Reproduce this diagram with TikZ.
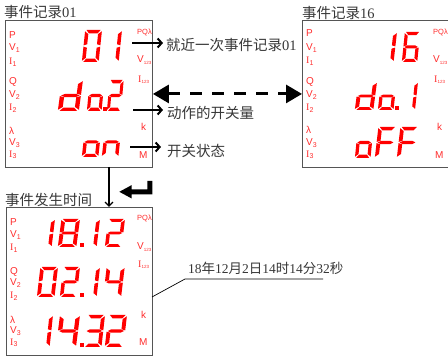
\documentclass[tikz,border=0pt]{standalone}
\usepackage{fontspec}
\setmainfont{Liberation Serif}
\newfontfamily\cjk{Noto Sans CJK SC}
\newfontfamily\lsans{Liberation Sans}
\usetikzlibrary{arrows.meta}
\definecolor{lcd}{RGB}{255,0,0}
\definecolor{lbl}{RGB}{255,45,45}
\definecolor{txt}{RGB}{55,55,55}
\definecolor{frame}{RGB}{85,85,85}
% seven-segment pieces (local frame: width 1, height 2, y downwards)
\newcommand\lcdsa{\fill[lcd] (0.08,0) -- (0.92,0) -- (0.76,0.21) -- (0.24,0.21) -- cycle;}
\newcommand\lcdsd{\fill[lcd] (0.08,2) -- (0.92,2) -- (0.76,1.79) -- (0.24,1.79) -- cycle;}
\newcommand\lcdsf{\fill[lcd] (0,0.08) -- (0.21,0.26) -- (0.21,0.89) -- (0,0.96) -- cycle;}
\newcommand\lcdse{\fill[lcd] (0,1.92) -- (0.21,1.74) -- (0.21,1.11) -- (0,1.04) -- cycle;}
\newcommand\lcdsb{\fill[lcd] (1,0.08) -- (0.79,0.26) -- (0.79,0.89) -- (1,0.96) -- cycle;}
\newcommand\lcdsc{\fill[lcd] (1,1.92) -- (0.79,1.74) -- (0.79,1.11) -- (1,1.04) -- cycle;}
\newcommand\lcdsg{\fill[lcd] (0.06,1) -- (0.23,0.9) -- (0.77,0.9) -- (0.94,1) -- (0.77,1.1) -- (0.23,1.1) -- cycle;}
\newcommand\ssd[5]{\begin{scope}[shift={(#1,#2)},xscale=#3,yscale={#4/2},xslant=0.1]
  \foreach \s in {#5}{\csname lcds\s\endcsname}\end{scope}}
\newcommand\lcddot[2]{\fill[lcd] (#1,#2) rectangle ++(3.5,-3.5);}
\newcommand\lbltext[1]{\ifcase#1\or P\or V\textsubscript{1}\or {\rmfamily I}\textsubscript{1}\or Q\or V\textsubscript{2}\or {\rmfamily I}\textsubscript{2}\or λ\or V\textsubscript{3}\or {\rmfamily I}\textsubscript{3}\fi}
\newcommand\rlbltext[1]{\ifcase#1\or {\fontsize{7.5}{8}\selectfont PQλ}\or V\textsubscript{\fontsize{4.5}{5}\selectfont 123}\or {\rmfamily I}\textsubscript{\fontsize{4.5}{5}\selectfont 123}\or k\or M\fi}
\newcommand\leftlbls[3]{\foreach \y [count=\i] in {#3}{\node[lbl] (#1-\i) at (#2,\y) {\lbltext{\i}};}}
\newcommand\rightlbls[3]{\foreach \y/\xx [count=\i] in {#3}{\node[lbl] (#1-\i) at (#2+\xx,\y) {\rlbltext{\i}};}}
\begin{document}
\begin{tikzpicture}[x=1pt,y=-1pt,
  box/.style={draw=frame,line width=0.9pt,inner sep=0,minimum width=147pt,minimum height=147pt,anchor=north west},
  ttl/.style={font=\fontsize{14.5}{16}\selectfont,text=txt,inner sep=0,anchor=west},
  lbl/.style={font=\lsans\fontsize{10}{11}\selectfont,text=lbl,inner sep=0,anchor=west},
  arr/.style={line width=2pt,-{Straight Barb[length=4pt,width=9pt]}},
  dbl/.style={line width=3pt,dash pattern=on 12pt off 10pt,{Triangle[length=16pt,width=18pt]}-{Triangle[length=16pt,width=18pt]}},
  thin arrow/.style={line width=1.3pt,-{Straight Barb[length=4pt,width=8pt]}},
  leader/.style={line width=0.7pt,black}]
\useasboundingbox (0,0) rectangle (448,358);
% boxes
\node[box] (b1) at (5,20) {};
\node[box] (b2) at (302,20) {};
\node[box,minimum width=146pt,minimum height=148pt] (b3) at (6,207) {};
% titles
\node[ttl] (h1) at (4,12) {{\cjk 事件记录}01};
\node[ttl] (h2) at (302,13) {{\cjk 事件记录}16};
\node[ttl] (h3) at (5,200) {{\cjk 事件发生时间}};
% side labels
\leftlbls{L1}{9}{35,48,62,82,95,108,131,143,155}
\leftlbls{L2}{306}{33,48,61,82,95,108,130,143,155}
\leftlbls{L3}{10}{222,235,248,272,283,296,320,331,343}
\rightlbls{R1}{136}{32/1,60/1,80/2,127/5,155/3}
\rightlbls{R2}{432}{32/1,60/1,80/2,127/5,155/3}
\rightlbls{R3}{136}{218/1,247/1,265/2,315/5,342/3}
% box 1 digits
\ssd{85.2}{30}{16.8}{32}{a,b,c,d,e,f}
\ssd{105.2}{30}{16.8}{32}{b,c}
\ssd{62}{80}{21}{31}{b,c,d,e,g}
\ssd{89.8}{80}{14.7}{31}{c,d,e,g}
\lcddot{103}{111}
\ssd{109.7}{80}{14}{31}{a,b,g,e,d}
\ssd{85.1}{127}{16.5}{30}{c,d,e,g}
\ssd{105.1}{127}{16.5}{30}{c,e,g}
% box 2 digits
\ssd{380}{32}{17}{30}{b,c}
\ssd{404.9}{32}{15.4}{30}{a,f,g,e,c,d}
\ssd{358.5}{82}{18.5}{28}{b,c,d,e,g}
\ssd{381}{82}{15.6}{28}{c,d,e,g}
\lcddot{395}{110}
\ssd{403}{82}{15}{28}{b,c}
\ssd{358}{127}{15.6}{31}{c,d,e,g}
\ssd{378.4}{127}{17.9}{31}{a,e,f,g}
\ssd{400.4}{127}{17.9}{31}{a,e,f,g}
% box 3 digits
\ssd{38}{219}{17}{28}{b,c}
\ssd{61.5}{219}{18.5}{28}{a,b,c,d,e,f,g}
\lcddot{80}{247}
\ssd{83}{219}{17}{28}{b,c}
\ssd{108.2}{219}{16.8}{28}{a,b,g,e,d}
\ssd{40.4}{267}{17.6}{30}{a,b,c,d,e,f}
\ssd{63.2}{267}{16.8}{30}{a,b,g,e,d}
\lcddot{80}{297}
\ssd{83}{267}{17}{30}{b,c}
\ssd{106.7}{267}{18}{30}{f,g,b,c}
\ssd{36}{315}{17}{32}{b,c}
\ssd{60}{315}{20}{32}{f,g,b,c}
\lcddot{80}{347}
\ssd{87.3}{315}{17.7}{32}{a,b,g,c,d}
\ssd{108.5}{315}{18.5}{32}{a,b,g,e,d}
% explanatory texts
\node[ttl] (t1) at (166,45) {{\cjk 就近一次事件记录}01};
\node[ttl] (t2) at (167,113) {{\cjk 动作的开关量}};
\node[ttl] (t3) at (167,151) {{\cjk 开关状态}};
\node[ttl,font=\fontsize{13.5}{15}\selectfont] (tm) at (188,268) {18{\cjk 年}12{\cjk 月}2{\cjk 日}14{\cjk 时}14{\cjk 分}32{\cjk 秒}};
% connectors
\coordinate (s1) at (132,43);
\coordinate (s2) at (133,110);
\coordinate (s3) at (130,147);
\draw[arr,shorten >=3pt] (s1) -- (s1 -| t1.west);
\draw[arr,shorten >=4pt] (s2) -- (s2 -| t2.west);
\draw[arr,shorten >=6pt] (s3) -- (s3 -| t3.west);
\draw[dbl] (b1.east) -- (b2.west);
\coordinate (v0) at (109,167);
\draw[thin arrow] (v0) -- (v0 |- b3.north);
\coordinate (l0) at (152,297);
\coordinate (l1) at (185,279);
\coordinate (l2) at (323,279);
\draw[leader] (l0) -- (l1) -- (l2);
% return symbol
\fill[black] (119.3,191.8) -- (131.7,185.1) -- (131.7,189.3) -- (147.3,189.3) -- (147.3,181) -- (152.3,181) -- (152.3,194.3) -- (131.7,194.3) -- (131.7,198.5) -- cycle;
\end{tikzpicture}
\end{document}
